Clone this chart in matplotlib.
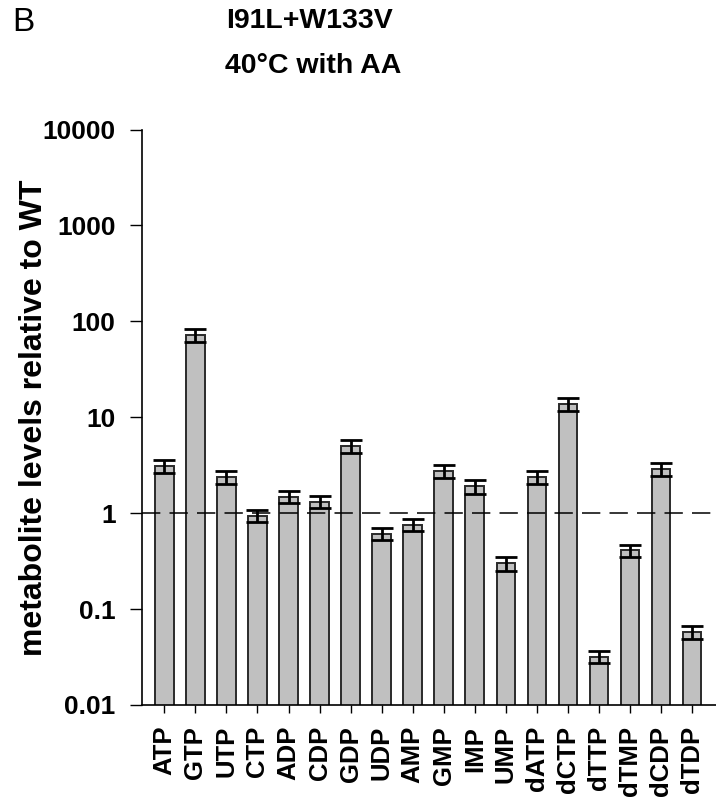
import matplotlib
matplotlib.use("Agg")
import matplotlib.pyplot as plt
from matplotlib.ticker import FixedLocator, FixedFormatter, NullLocator

plt.rcParams['font.family'] = ['Liberation Sans', 'DejaVu Sans']

metabolites = ["ATP", "GTP", "UTP", "CTP", "ADP", "CDP", "GDP", "UDP", "AMP",
               "GMP", "IMP", "UMP", "dATP", "dCTP", "dTTP", "dTMP", "dCDP", "dTDP"]
ratio = [3.1, 72.0, 2.4, 0.94, 1.48, 1.32, 5.0, 0.61, 0.76,
         2.75, 1.9, 0.30, 2.4, 13.8, 0.032, 0.41, 2.9, 0.058]
ratio_err = [0.45, 10.5, 0.38, 0.13, 0.21, 0.20, 0.8, 0.085, 0.11,
             0.40, 0.30, 0.05, 0.38, 2.1, 0.0045, 0.06, 0.47, 0.009]

ytick_values = [0.01, 0.1, 1, 10, 100, 1000, 10000]
ytick_labels = ["0.01", "0.1", "1", "10", "100", "1000", "10000"]

W, H = 716, 800
fig = plt.figure(figsize=(W / 100, H / 100), dpi=100)
ax = fig.add_axes([142 / W, 1 - 705 / H, (W - 142) / W, (705 - 129.5) / H])

x = list(range(len(metabolites)))
ax.bar(x, ratio, width=0.6, color="#c0c0c0", edgecolor="#2a2a2a",
       linewidth=1.4, zorder=2)
ax.errorbar(x, ratio, yerr=ratio_err, fmt="none", ecolor="black",
            elinewidth=2.0, capsize=8, capthick=2.0, zorder=3)
ax.axhline(1, color="black", linewidth=1.1, linestyle=(0, (12, 6)), zorder=4)

ax.set_yscale("log")
ax.set_ylim(0.01, 10000)
ax.set_xlim(-0.72, len(metabolites) - 1 + 0.77)

ax.yaxis.set_major_locator(FixedLocator(ytick_values))
ax.yaxis.set_major_formatter(FixedFormatter(ytick_labels))
ax.yaxis.set_minor_locator(NullLocator())

ax.set_xticks(x)
ax.set_xticklabels(metabolites, rotation=90, fontsize=18.5, fontweight="bold")
for lab in ax.get_yticklabels():
    lab.set_fontsize(19)
    lab.set_fontweight("bold")

ax.tick_params(axis="y", direction="out", length=9, width=1.0, pad=10)
ax.tick_params(axis="x", direction="out", length=6, width=1.0, pad=9)

for side in ("top", "right"):
    ax.spines[side].set_visible(False)
for side in ("left", "bottom"):
    ax.spines[side].set_linewidth(1.2)

ax.set_ylabel("metabolite levels relative to WT", fontsize=23,
              fontweight="bold")
ax.yaxis.set_label_coords((49 - 142) / (W - 142), 0.5)

fig.text(309 / W, 1 - 28 / H, "I91L+W133V", ha="center", va="baseline",
         fontsize=20.5, fontweight="bold")
fig.text(313 / W, 1 - 73 / H, "40°C with AA", ha="center", va="baseline",
         fontsize=20.5, fontweight="bold")
fig.text(12 / W, 1 - 31 / H, "B", ha="left", va="baseline", fontsize=24)

fig.savefig("out.png", dpi=100)
